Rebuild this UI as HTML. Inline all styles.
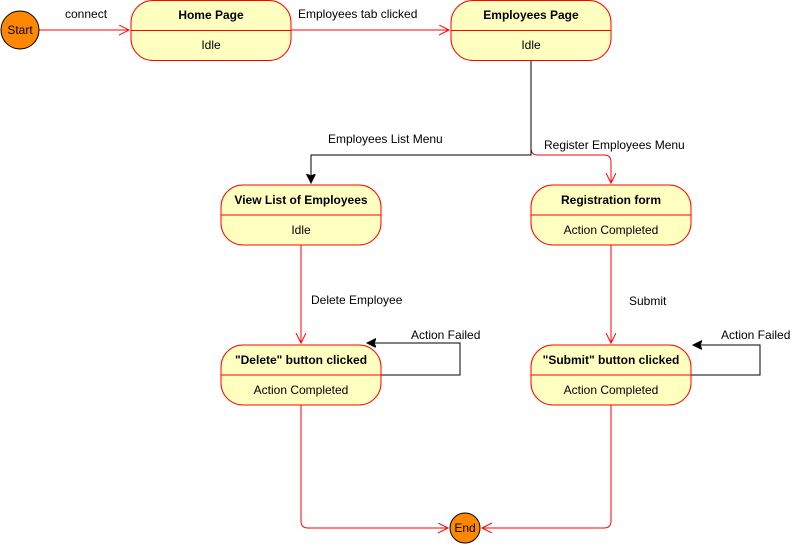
<!DOCTYPE html>
<html><head><style>
body{margin:0;background:#fff}
svg text{font-family:"Liberation Sans",Arial,sans-serif;font-size:12px;fill:#000}
</style></head><body>
<svg width="801" height="546" viewBox="0 0 801 546" xmlns="http://www.w3.org/2000/svg">
<defs>
<marker id="ro" markerWidth="12" markerHeight="12" refX="10" refY="5" orient="auto" markerUnits="userSpaceOnUse"><path d="M0,0 L10,5 L0,10" fill="none" stroke="#f00" stroke-width="1"/></marker>
<marker id="bk" markerWidth="12" markerHeight="12" refX="9" refY="4.5" orient="auto" markerUnits="userSpaceOnUse"><path d="M0,0 L9,4.5 L0,9 L2,4.5z" fill="#000" stroke="#000"/></marker>
</defs>
<g fill="none" stroke="#f00" stroke-width="1">
<path d="M39,30 H129" marker-end="url(#ro)"/>
<path d="M291,30 H449" marker-end="url(#ro)"/>
<path d="M531,60 V148 Q531,155 538,155 H604 Q611,155 611,162 V183" marker-end="url(#ro)"/>
<path d="M301,245 V343" marker-end="url(#ro)"/>
<path d="M611,245 V343" marker-end="url(#ro)"/>
<path d="M301,405 V521 Q301,528 308,528 H448" marker-end="url(#ro)"/>
<path d="M611,405 V521 Q611,528 604,528 H482" marker-end="url(#ro)"/>
</g>
<g fill="none" stroke="#000" stroke-width="1">
<path d="M531,60 V155 H311 V183" marker-end="url(#bk)"/>
<path d="M381,375 H460 V343 H367" marker-end="url(#bk)"/>
<path d="M691,375 H760 V345 H693" marker-end="url(#bk)"/>
</g>
<circle cx="20" cy="30" r="19" fill="#f80" stroke="#000"/>
<text x="20" y="34" text-anchor="middle">Start</text>
<circle cx="465" cy="528" r="15" fill="#f80" stroke="#000"/>
<text x="465" y="532" text-anchor="middle">End</text>
<g fill="#ffffc0" stroke="#f00">
<rect x="131" y="0.5" width="160" height="60" rx="22"/>
<rect x="451" y="0.5" width="160" height="60" rx="22"/>
<rect x="221" y="185" width="160" height="60" rx="22"/>
<rect x="531" y="185" width="160" height="60" rx="22"/>
<rect x="221" y="345" width="160" height="60" rx="22"/>
<rect x="531" y="345" width="160" height="60" rx="22"/>
<path d="M131,30.5H291M451,30.5H611M221,215H381M531,215H691M221,375H381M531,375H691" fill="none"/>
</g>
<g text-anchor="middle">
<text x="211" y="19" font-weight="bold">Home Page</text><text x="211" y="49">Idle</text>
<text x="531" y="19" font-weight="bold">Employees Page</text><text x="531" y="49">Idle</text>
<text x="301" y="204" font-weight="bold">View List of Employees</text><text x="301" y="234">Idle</text>
<text x="611" y="204" font-weight="bold">Registration form</text><text x="611" y="234">Action Completed</text>
<text x="301" y="364" font-weight="bold">"Delete" button clicked</text><text x="301" y="394">Action Completed</text>
<text x="611" y="364" font-weight="bold">"Submit" button clicked</text><text x="611" y="394">Action Completed</text>
</g>
<text x="65" y="18">connect</text>
<text x="298" y="18">Employees tab clicked</text>
<text x="328" y="143">Employees List Menu</text>
<text x="544" y="149">Register Employees Menu</text>
<text x="311" y="304">Delete Employee</text>
<text x="629" y="305">Submit</text>
<text x="411" y="339">Action Failed</text>
<text x="721" y="339">Action Failed</text>
</svg>
</body></html>
